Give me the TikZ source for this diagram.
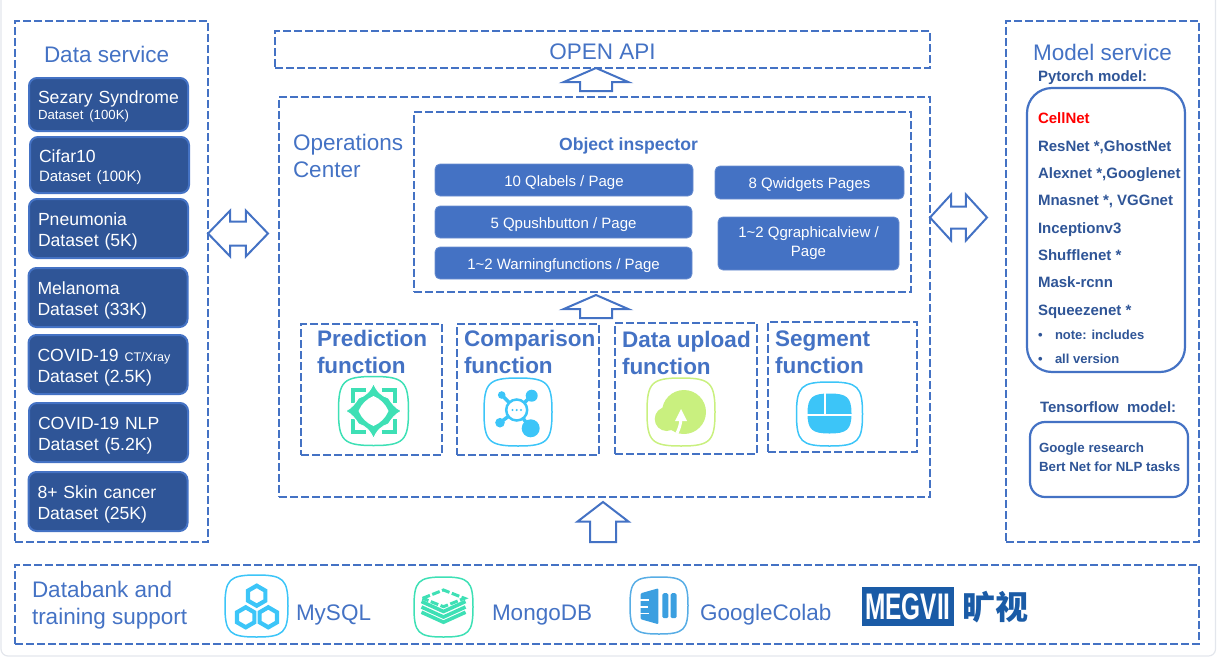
\documentclass[tikz,border=0pt]{standalone}
\usepackage{fontspec}
\setmainfont{Liberation Sans}
\newfontfamily\cjk{Noto Sans CJK SC}
\usetikzlibrary{shapes,shapes.arrows,calc,positioning}

\definecolor{lineblue}{HTML}{4472C4}
\definecolor{darkblue}{HTML}{2F5597}
\definecolor{megblue}{HTML}{1A5BA6}
\definecolor{icongreen}{HTML}{3EE0B5}
\definecolor{iconblue}{HTML}{3CC5F8}
\definecolor{iconlime}{HTML}{C9F07F}
\definecolor{iconsky}{HTML}{3B9FE0}
\definecolor{edgegray}{HTML}{E3E6EC}

% squircle round an icon: half width, half height, colour
\newcommand{\iconframe}[3]{
  \draw[#3, line width=1.5pt] (-#1,0) .. controls (-#1,{-.86*#2}) and ({-.86*#1},-#2) .. (0,-#2)
    .. controls ({.86*#1},-#2) and (#1,{-.86*#2}) .. (#1,0)
    .. controls (#1,{.86*#2}) and ({.86*#1},#2) .. (0,#2)
    .. controls ({-.86*#1},#2) and (-#1,{.86*#2}) .. cycle;
}

\begin{document}
\begin{tikzpicture}[x=1pt, y=-1pt, inner sep=0pt, outer sep=0pt,
    every node/.append style={text=lineblue},
    dashbox/.style={draw=lineblue, line width=2.5pt, dash pattern=on 8pt off 3pt, rectangle},
    databox/.style={rectangle, rounded corners=8pt, fill=darkblue, draw=lineblue, line width=2pt,
      text=white, text width=141pt, inner xsep=9pt, align=left, font=\fontsize{17.6}{21.5}\selectfont,
      text height=12pt, text depth=18.4pt},
    button/.style={rectangle, rounded corners=5pt, fill=lineblue, draw=lineblue!80!white, line width=.8pt,
      text=white, align=center, font=\fontsize{15}{22}\selectfont, text height=15.5pt, text depth=3pt},
    title/.style={align=left, anchor=west, font=\fontsize{22.5}{27}\selectfont},
    fnlabel/.style={align=left, anchor=west, font=\fontsize{22.5}{27}\selectfont\bfseries},
    modelname/.style={anchor=base west, text=darkblue, font=\fontsize{15}{18}\selectfont\bfseries},
    modelbox/.style={rectangle, draw=lineblue, line width=2.2pt, fill=white},
    uparrow/.style={single arrow, draw=lineblue, line width=2pt, fill=white, rotate=90, anchor=tip,
      inner xsep=0pt, single arrow head indent=0pt},
    twoarrow/.style={double arrow, draw=lineblue, line width=2pt, fill=white,
      inner xsep=0pt, double arrow head indent=0pt}]
    \useasboundingbox (0,0) rectangle (1226,670);
    \begin{scope}
      \clip (0,0) rectangle (1226,670);
      \draw[edgegray, line width=1.2pt, rounded corners=7pt] (1,-20) rectangle (1215.5,656);
    \end{scope}

    % outer dashed regions
    \node (dataservice) [dashbox, minimum width=193pt, minimum height=521pt] at (111.5,281.5) {};
    \node (modelservice) [dashbox, minimum width=193pt, minimum height=521pt] at (1102.5,281.5) {};
    \node (openapi) [dashbox, minimum width=655pt, minimum height=37pt, text height=20pt, font=\fontsize{22.5}{27}\selectfont] at (602.5,49.5) {OPEN API};
    \node (operations) [dashbox, minimum width=651pt, minimum height=400pt] at (604.5,297) {};
    \node (inspector) [dashbox, minimum width=497pt, minimum height=180pt] at (662.5,202) {};
    \node (databank) [dashbox, minimum width=1184pt, minimum height=79pt] at (607,604.5) {};
    \node (prediction) [dashbox, minimum width=141pt, minimum height=131pt] at (371.5,389.5) {};
    \node (comparison) [dashbox, minimum width=142pt, minimum height=131pt] at (528,389.5) {};
    \node (dataupload) [dashbox, minimum width=142pt, minimum height=131pt] at (686,388.5) {};
    \node (segment) [dashbox, minimum width=149pt, minimum height=130pt] at (842.5,387) {};

    % data service column
    \node (datatitle) [title] at (44,54) {Data service};
    \node (sezary) [databox, minimum height=53pt, text depth=14.4pt] at (108.5,104.5) {Sezary Syndrome\\[-5pt]{\fontsize{13.2}{16}\selectfont Dataset (100K)}};
    \node (cifar) [databox, minimum height=56pt, text depth=17.4pt] at (109.5,165) {Cifar10\\[-2pt]{\fontsize{15}{18}\selectfont Dataset (100K)}};
    \node (pneumonia) [databox, minimum height=59pt] at (108.5,228.5) {Pneumonia\\Dataset (5K)};
    \node (melanoma) [databox, minimum height=59pt] at (108,297.5) {Melanoma\\Dataset (33K)};
    \node (covidct) [databox, minimum height=59pt] at (108,364.5) {COVID-19 {\fontsize{12.5}{15}\selectfont CT/Xray}\\Dataset (2.5K)};
    \node (covidnlp) [databox, minimum height=59pt] at (108.5,432.5) {COVID-19 NLP\\Dataset (5.2K)};
    \node (skincancer) [databox, minimum height=59pt] at (108,501.5) {8+ Skin cancer\\Dataset (25K)};

    % operations center
    \node (opstitle) [title] at (293,156) {Operations\\Center};
    \node (inspectortitle) [font=\fontsize{17.6}{22}\selectfont\bfseries] at (628.5,146) {Object inspector};
    \node (qlabels) [button, minimum width=258pt, minimum height=32pt] at (564,180) {10 Qlabels / Page};
    \node (qpush) [button, minimum width=257pt, minimum height=32pt] at (563.5,222) {5 Qpushbutton / Page};
    \node (warning) [button, minimum width=257pt, minimum height=32pt] at (563.5,263) {1\textasciitilde 2 Warningfunctions / Page};
    \node (qwidgets) [button, minimum width=189pt, minimum height=33pt] at (809.5,182.5) {8 Qwidgets Pages};
    \node (qgraphical) [button, minimum width=181pt, minimum height=53pt, font=\fontsize{15}{19}\selectfont, text height={}, text depth={}] at (808.5,243.5) {1\textasciitilde 2 Qgraphicalview /\\Page};

    \node (predictionlabel) [fnlabel] at (317,352) {Prediction\\function};
    \node (comparisonlabel) [fnlabel] at (464,352) {Comparison\\function};
    \node (uploadlabel) [fnlabel] at (622,352.5) {Data upload\\function};
    \node (segmentlabel) [fnlabel] at (775,352) {Segment\\function};

    % model service column
    \node (modeltitle) [title] at (1033,52) {Model service};
    \node (pytorchtitle) [modelname] at (1038,81) {Pytorch model:};
    \node (pytorchbox) [modelbox, rounded corners=25pt, minimum width=158pt, minimum height=284pt] at (1106,230) {};
    \node (cellnet) [modelname, text=red] at (1038,123.5) {CellNet};
    \node (resnet) [modelname] at (1038,151) {ResNet *,GhostNet};
    \node (alexnet) [modelname] at (1038,178) {Alexnet *,Googlenet};
    \node (mnasnet) [modelname] at (1038,205.5) {Mnasnet *, VGGnet};
    \node (inception) [modelname] at (1038,233) {Inceptionv3};
    \node (shufflenet) [modelname] at (1038,260) {Shufflenet *};
    \node (maskrcnn) [modelname] at (1038,287.5) {Mask-rcnn};
    \node (squeezenet) [modelname] at (1038,315) {Squeezenet *};
    \node (bulletnote) [modelname, font=\fontsize{13}{16}\selectfont\bfseries] at (1038,339) {•};
    \node (note) [modelname, font=\fontsize{13}{16}\selectfont\bfseries] at (1055,339) {note: includes};
    \node (bulletversion) [modelname, font=\fontsize{13}{16}\selectfont\bfseries] at (1038,363) {•};
    \node (version) [modelname, font=\fontsize{13}{16}\selectfont\bfseries] at (1055,363) {all version};
    \node (tensorflowtitle) [modelname] at (1040,412) {Tensorflow\hspace{4pt} model:};
    \node (tensorflowbox) [modelbox, rounded corners=15pt, minimum width=158pt, minimum height=75pt] at (1109,459.5) {};
    \node (google) [modelname, font=\fontsize{13.3}{16}\selectfont\bfseries] at (1039,452) {Google research};
    \node (bert) [modelname, font=\fontsize{13.3}{16}\selectfont\bfseries] at (1039,471) {Bert Net for NLP tasks};

    % block arrows
    \node (apiarrow) [uparrow, minimum height=23pt, inner ysep=15pt, single arrow head extend=16.5pt, single arrow tip angle=133] at (596,68) {};
    \node (inspectorarrow) [uparrow, minimum height=23pt, inner ysep=15pt, single arrow head extend=16.5pt, single arrow tip angle=133] at (596,295) {};
    \node (bankarrow) [uparrow, minimum height=40pt, inner ysep=12pt, single arrow head extend=12.5pt, single arrow tip angle=105] at (603,502) {};
    \node (dataarrow) [twoarrow, minimum height=60pt, inner ysep=11pt, double arrow head extend=11pt, double arrow tip angle=92] at (238,233.5) {};
    \node (modelarrow) [twoarrow, minimum height=57pt, inner ysep=10pt, double arrow head extend=12pt, double arrow tip angle=95] at (958.5,217.5) {};

    % databank row
    \node (banktitle) [title] at (32,605) {Databank and\\training support};
    \node (mysql) [title] at (296,615) {MySQL};
    \node (mongodb) [title] at (492,615) {MongoDB};
    \node (colab) [title] at (700,615) {GoogleColab};
    \node (megvii) [rectangle, fill=megblue, minimum width=92pt, minimum height=39pt, text=white, font=\fontsize{37}{37}\selectfont\bfseries] at (908,606.5) {\scalebox{.66}[1]{MEGVII}};
    \node (kuangshi) [text=megblue, font=\fontsize{33}{33}\selectfont\cjk\bfseries] at (995,607) {旷视};

    % prediction icon
    \begin{scope}[shift={(373.5,411)}]
      \iconframe{35}{34.5}{icongreen}
      \draw[icongreen, line width=4pt] (-8,-21) -- (-21,-21) -- (-21,-8);
      \draw[icongreen, line width=4pt] (8,-21) -- (21,-21) -- (21,-8);
      \draw[icongreen, line width=4pt] (-8,21) -- (-21,21) -- (-21,8);
      \draw[icongreen, line width=4pt] (8,21) -- (21,21) -- (21,8);
      \path[fill=icongreen, draw=white, line width=1pt] (0,-28) .. controls (3,-20) and (8,-15) .. (15,-13) .. controls (18,-8) and (22,-3) .. (28,0)
        .. controls (22,3) and (18,8) .. (15,13) .. controls (8,15) and (3,20) .. (0,28)
        .. controls (-3,20) and (-8,15) .. (-15,13) .. controls (-18,8) and (-22,3) .. (-28,0)
        .. controls (-22,-3) and (-18,-8) .. (-15,-13) .. controls (-8,-15) and (-3,-20) .. cycle;
      \fill[white] (0,-15) .. controls (7,-12) and (12,-7) .. (15,0) .. controls (12,7) and (7,12) .. (0,15)
        .. controls (-7,12) and (-12,7) .. (-15,0) .. controls (-12,-7) and (-7,-12) .. cycle;
    \end{scope}

    % comparison icon
    \begin{scope}[shift={(518,412)}]
      \iconframe{34}{34}{iconblue}
      \draw[iconblue, line width=3.5pt] (-1.3,-2) -- (13.7,-16.3) (-1.3,-2) -- (-16.3,-17) (-1.3,-2) -- (-18,10.7) (-1.3,-2) -- (12.7,16.3);
      \fill[iconblue] (13.7,-16.3) circle (6) (-16.3,-17) circle (3.8) (-18,10.7) circle (4.8) (12.7,16.3) circle (9);
      \draw[iconblue, fill=white, line width=2.5pt] (-1.3,-2) circle (10.5);
      \fill[iconblue] (-5.5,-2) circle (1.2) (-1.3,-2) circle (1.2) (3,-2) circle (1.2);
    \end{scope}

    % data upload icon
    \begin{scope}[shift={(681,412)}]
      \iconframe{34}{34}{iconlime}
      \fill[iconlime] (3,0) circle (22) (-14.3,7) circle (12);
      \draw[white, line width=3pt] (0,7) .. controls (-.5,13) and (-2,17) .. (-4,21);
      \fill[white] (0,-3) -- (6,9) -- (-6,9) -- cycle;
    \end{scope}

    % segment icon
    \begin{scope}[shift={(829.5,414)}]
      \iconframe{33}{32}{iconblue}
      \fill[iconblue] (-22,-.5) .. controls (-22,-17) and (-17,-20.5) .. (0,-20.5) .. controls (17,-20.5) and (22,-17) .. (22,-.5)
        .. controls (22,16) and (17,19.5) .. (0,19.5) .. controls (-17,19.5) and (-22,16) .. cycle;
      \draw[white, line width=2pt] (-23,1) -- (23,1) (-5,1) -- (-5,-21);
    \end{scope}

    % mysql icon
    \begin{scope}[shift={(256.5,606)}]
      \iconframe{31.5}{31}{iconblue}
      \foreach \hexpos in {(0.2,-10.3),(-10.8,11.3),(11.8,11.3)}
        \draw[iconblue, line width=4.2pt, shift={\hexpos}] (30:10) -- (90:10) -- (150:10) -- (210:10) -- (270:10) -- (330:10) -- cycle;
    \end{scope}

    % mongodb icon
    \begin{scope}[shift={(443.5,607)}]
      \iconframe{29.5}{30}{icongreen}
      \draw[icongreen, line width=3pt, dash pattern=on 8pt off 2.5pt] (-21,-8.7) -- (0,-17) -- (21,-8.7) -- (0,-.3) -- cycle;
      \foreach \bandy in {-5.5,0,5.2}
        \draw[icongreen, line width=3.6pt] (-22,\bandy) -- (0,\bandy+10) -- (22,\bandy);
    \end{scope}

    % colab icon
    \begin{scope}[shift={(659,605.5)}]
      \iconframe{29}{28.5}{iconsky!85!white}
      \fill[iconsky, rounded corners=1pt] (-18.3,-12.2) -- (-.7,-17.2) -- (-.7,18.7) -- (-18.3,13.7) -- cycle;
      \draw[white, line width=1.6pt] (-19,-5.7) -- (-10,-5.7) (-19,1.2) -- (-11,1.2) (-19,7.8) -- (-10,7.8);
      \fill[iconsky, rounded corners=1.5pt] (3.3,-12.3) rectangle (9.3,12.7);
      \fill[iconsky, rounded corners=1.5pt] (11.7,-12.3) rectangle (17.7,12.7);
    \end{scope}
\end{tikzpicture}
\end{document}
